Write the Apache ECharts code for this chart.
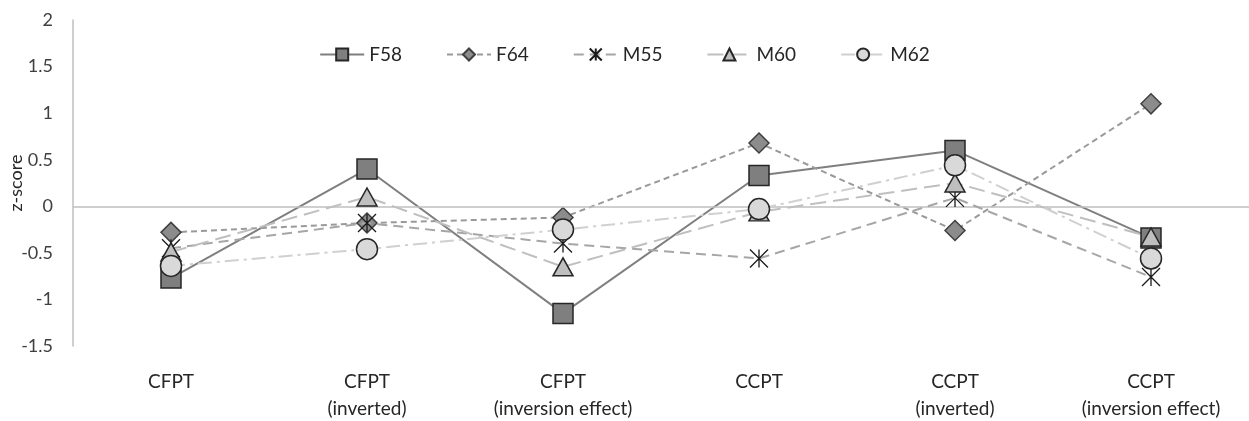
<!DOCTYPE html>
<html>
<head>
<meta charset="utf-8">
<script src="https://cdn.jsdelivr.net/npm/echarts@6/dist/echarts.min.js"></script>
<style>
html,body{margin:0;padding:0;background:#fff;}
#c{width:1249px;height:421px;}
</style>
</head>
<body>
<div id="c"></div>
<script>
const categories = ['CFPT', 'CFPT\n(inverted)', 'CFPT\n(inversion effect)', 'CCPT', 'CCPT\n(inverted)', 'CCPT\n(inversion effect)'];
const F58 = [-0.77, 0.40, -1.15, 0.33, 0.60, -0.34];
const F64 = [-0.28, -0.18, -0.12, 0.68, -0.26, 1.10];
const M55 = [-0.45, -0.18, -0.40, -0.56, 0.09, -0.76];
const M60 = [-0.49, 0.10, -0.65, -0.06, 0.25, -0.33];
const M62 = [-0.64, -0.46, -0.25, -0.03, 0.44, -0.56];
const yTicks = { min: -1.5, max: 2, step: 0.5 };

const font = 'Lato, "Open Sans", sans-serif';
const asterisk = 'path://M0,0 L20,20 M20,0 L0,20 M10,0 L10,20';

const chart = echarts.init(document.getElementById('c'), null, { renderer: 'canvas' });
chart.setOption({
  animation: false,
  backgroundColor: '#ffffff',
  textStyle: { fontFamily: font },
  grid: { left: 73, right: 0, top: 20, bottom: 75, containLabel: false, outerBoundsMode: 'none' },
  legend: {
    top: 40,
    left: 'center',
    itemWidth: 44,
    itemHeight: 15,
    itemGap: 44,
    textStyle: { fontSize: 19, color: '#262626', fontFamily: font },
    data: ['F58', 'F64', 'M55', 'M60', 'M62']
  },
  xAxis: {
    type: 'category',
    data: categories,
    boundaryGap: true,
    axisLine: { show: false, onZero: false },
    axisTick: { show: false },
    axisLabel: { color: '#262626', fontSize: 19, lineHeight: 27, margin: 22, fontFamily: font }
  },
  yAxis: {
    type: 'value',
    min: yTicks.min,
    max: yTicks.max,
    interval: yTicks.step,
    name: 'z-score',
    nameLocation: 'middle',
    nameGap: 48,
    nameMoveOverlap: false,
    nameTextStyle: { fontSize: 18, color: '#262626', fontFamily: font },
    axisLine: { show: true, lineStyle: { color: '#bfbfbf', width: 1.5 } },
    axisTick: { show: false },
    splitLine: { show: false },
    axisLabel: { color: '#404040', fontSize: 18, margin: 20, fontFamily: font }
  },
  series: [
    {
      name: 'F58', type: 'line', data: F58,
      symbol: 'rect', symbolSize: 20,
      lineStyle: { color: '#7f7f7f', width: 2, type: 'solid' },
      itemStyle: { color: '#7f7f7f', borderColor: '#262626', borderWidth: 1.5 },
      markLine: {
        silent: true, symbol: 'none', label: { show: false },
        lineStyle: { color: '#bfbfbf', width: 1.5, type: 'solid' },
        data: [{ yAxis: 0 }]
      },
      z: 3
    },
    {
      name: 'F64', type: 'line', data: F64,
      symbol: 'diamond', symbolSize: [20, 20],
      lineStyle: { color: '#9a9a9a', width: 2, type: [6, 4] },
      itemStyle: { color: '#8c8c8c', borderColor: '#404040', borderWidth: 1.5 },
      z: 4
    },
    {
      name: 'M55', type: 'line', data: M55,
      symbol: asterisk, symbolSize: 18,
      lineStyle: { color: '#a6a6a6', width: 2, type: [10, 6] },
      itemStyle: { color: 'rgba(0,0,0,0)', borderColor: '#1a1a1a', borderWidth: 1.3 },
      z: 5
    },
    {
      name: 'M60', type: 'line', data: M60,
      symbol: 'triangle', symbolSize: [20, 18],
      lineStyle: { color: '#bfbfbf', width: 2, type: [16, 7] },
      itemStyle: { color: '#bfbfbf', borderColor: '#262626', borderWidth: 1.5 },
      z: 6
    },
    {
      name: 'M62', type: 'line', data: M62,
      symbol: 'circle', symbolSize: 21,
      lineStyle: { color: '#d0d0d0', width: 2, type: [14, 5, 3, 5] },
      itemStyle: { color: '#d9d9d9', borderColor: '#262626', borderWidth: 1.5 },
      z: 7
    }
  ]
});
</script>
</body>
</html>
